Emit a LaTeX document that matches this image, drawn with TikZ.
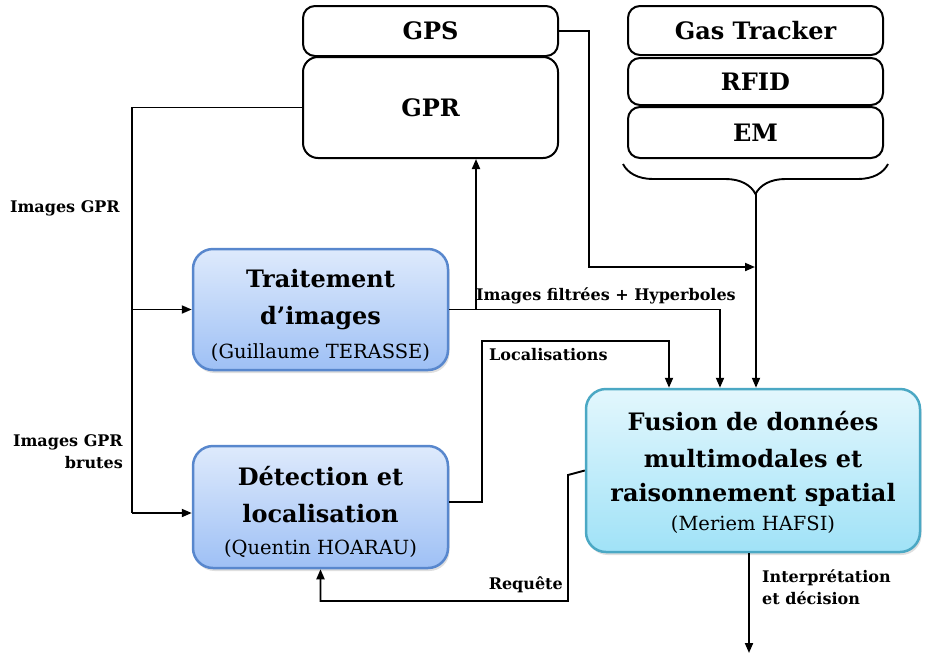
\documentclass[tikz,border=0pt]{standalone}
\usepackage{fontspec}
\setmainfont{DejaVu Serif}
\usetikzlibrary{arrows.meta,shadows,decorations.pathreplacing,calc}
\definecolor{proctop}{RGB}{222,234,252}
\definecolor{procbot}{RGB}{158,192,245}
\definecolor{procbord}{RGB}{88,135,205}
\definecolor{fustop}{RGB}{227,247,253}
\definecolor{fusbot}{RGB}{160,226,247}
\definecolor{fusbord}{RGB}{75,168,196}
\tikzset{
  sensor/.style={draw=black, line width=2pt, rounded corners=12pt, minimum width=255pt,
    inner sep=0pt, font=\bfseries\fontsize{24}{28}\selectfont},
  procbox/.style={line width=2.5pt, rounded corners=20pt, align=center, inner sep=0pt,
    font=\bfseries\fontsize{24}{37}\selectfont,
    drop shadow={shadow xshift=1.5pt, shadow yshift=-3pt, opacity=0.25}},
  conn/.style={line width=1.9pt, line join=miter},
  arr/.style={conn, -{Triangle[length=10pt,width=8pt]}},
  lbl/.style={font=\bfseries\fontsize{16}{22}\selectfont, inner sep=0pt},
}
\newcommand{\sbt}[1]{{\mdseries\fontsize{19.5}{24}\selectfont #1}}
\begin{document}
\begin{tikzpicture}[x=1pt,y=-1pt]
\useasboundingbox (0,0) rectangle (928,657);
% sensors
\node[sensor, minimum height=50pt] (gps) at (430.5,31) {GPS};
\node[sensor, minimum height=101pt, rounded corners=15pt] (gpr) at (430.5,107.5) {GPR};
\node[sensor, minimum height=49pt] (gas) at (755.5,30.5) {Gas Tracker};
\node[sensor, minimum height=47pt] (rfid) at (755.5,81.5) {RFID};
\node[sensor, minimum height=51pt] (em) at (755.5,132.5) {EM};
% processing boxes
\node[procbox, draw=procbord, top color=proctop, bottom color=procbot,
  minimum width=255pt, minimum height=121pt] (trt) at (320.5,309.5)
  {\rule{0pt}{30pt}Traitement\\d’images\\[-3pt]\sbt{(Guillaume TERASSE)}};
\node[procbox, draw=procbord, top color=proctop, bottom color=procbot,
  minimum width=255pt, minimum height=122pt] (det) at (320.5,507)
  {\rule{0pt}{30pt}Détection et\\localisation\\[-5pt]\sbt{(Quentin HOARAU)}};
\node[procbox, draw=fusbord, top color=fustop, bottom color=fusbot,
  minimum width=334pt, minimum height=163pt] (fus) at (753,470.5)
  {\rule{0pt}{24pt}Fusion de données\\[0pt]multimodales et\\[-3pt]raisonnement spatial\\[-8pt]\sbt{(Meriem HAFSI)}};
% coordinates
\coordinate (spb) at (132,513);
\coordinate (br) at (476,0);
\coordinate (t1) at (720,0);
\coordinate (l1) at (482,341);
\coordinate (l2) at (669,0);
\coordinate (g1) at (589,267);
\coordinate (gj) at (755,267);
\coordinate (bt) at (756,194);
\coordinate (r1) at (568,475);
\coordinate (r2) at (320.5,601);
\coordinate (out) at (749,653);
% GPR to processing
\draw[conn] (gpr.west) -| (spb);
\draw[arr] (spb) -- ([yshift=-6pt]det.west);
\draw[arr] (trt.west -| spb) -- (trt.west);
% Traitement outputs
\draw[arr] (trt.east) -| (fus.north -| t1);
\draw[arr] (trt.east -| br) -- (gpr.south -| br);
% Detection output
\draw[arr] ([yshift=5pt]det.east) -| (l1) -| (fus.north -| l2);
% GPS
\draw[arr] (gps.east) -| (g1) -- (gj);
% brace
\draw[conn, decorate, decoration={brace, mirror, amplitude=30pt}] (623,164) -- (888,164);
\draw[arr] (bt) -- (fus.north -| bt);
% Requete
\draw[arr] (fus.west) -- (r1) |- (r2) -- (det.south);
% Output
\draw[arr] (fus.south -| out) -- (out);
% labels
\node[lbl, anchor=east] (lgpr) at (120,208) {Images GPR};
\node[lbl, anchor=east, align=right] (lbrut) at (123,451.5) {Images GPR\\brutes};
\node[lbl, anchor=west] (lfil) at (476,296) {Images filtrées + Hyperboles};
\node[lbl, anchor=west] (lloc) at (489,355) {Localisations};
\node[lbl, anchor=east] (lreq) at (563,585) {Requête};
\node[lbl, anchor=west, align=left] (lint) at (762,587) {Interprétation\\et décision};
\end{tikzpicture}
\end{document}
